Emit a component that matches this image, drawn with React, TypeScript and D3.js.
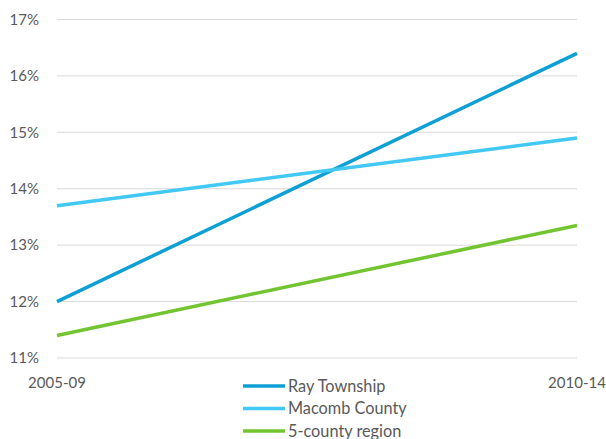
import React from "react";
import * as d3 from "d3";

const categories = ["2005-09", "2010-14"];
const seriesNames = ["Ray Township", "Macomb County", "5-county region"];
const rayTownship = [12.0, 16.4];
const macombCounty = [13.7, 14.9];
const fiveCounty = [11.4, 13.35];
const yTicks = [11, 12, 13, 14, 15, 16, 17];
const colors = ["#0ea0d4", "#42c8f4", "#72c430"];

export default function App() {
  const W = 606, H = 439;
  const x = d3.scalePoint<string>().domain(categories).range([57, 577]);
  const y = d3.scaleLinear().domain([11, 17]).range([358, 19.5]);
  const series = [rayTownship, macombCounty, fiveCounty];
  const line = d3.line<number>().x((_, i) => x(categories[i])!).y((d) => y(d));
  const font = "Lato, 'Open Sans', sans-serif";
  return (
    <svg width={W} height={H} style={{ position: "absolute", left: 0, top: 0 }} fontFamily={font}>
      {yTicks.map((t) => (
        <g key={t}>
          <line x1={57} x2={577} y1={y(t)} y2={y(t)} stroke="#d9d9d9" strokeWidth={1} />
          <text x={39} y={y(t)} dy="0.35em" textAnchor="end" fontSize={15} fill="#595959">{t}%</text>
        </g>
      ))}
      {categories.map((c) => (
        <text key={c} x={x(c)} y={383} dy="0.35em" textAnchor="middle" fontSize={15} fill="#595959">{c}</text>
      ))}
      {series.map((s, i) => (
        <path key={i} d={line(s)!} fill="none" stroke={colors[i]} strokeWidth={3.5} />
      ))}
      {seriesNames.map((n, i) => (
        <g key={n}>
          <line x1={243} x2={285} y1={386 + i * 22.5} y2={386 + i * 22.5} stroke={colors[i]} strokeWidth={3.5} />
          <text x={288} y={386 + i * 22.5} dy="0.35em" fontSize={16.3} fill="#595959">{n}</text>
        </g>
      ))}
    </svg>
  );
}
